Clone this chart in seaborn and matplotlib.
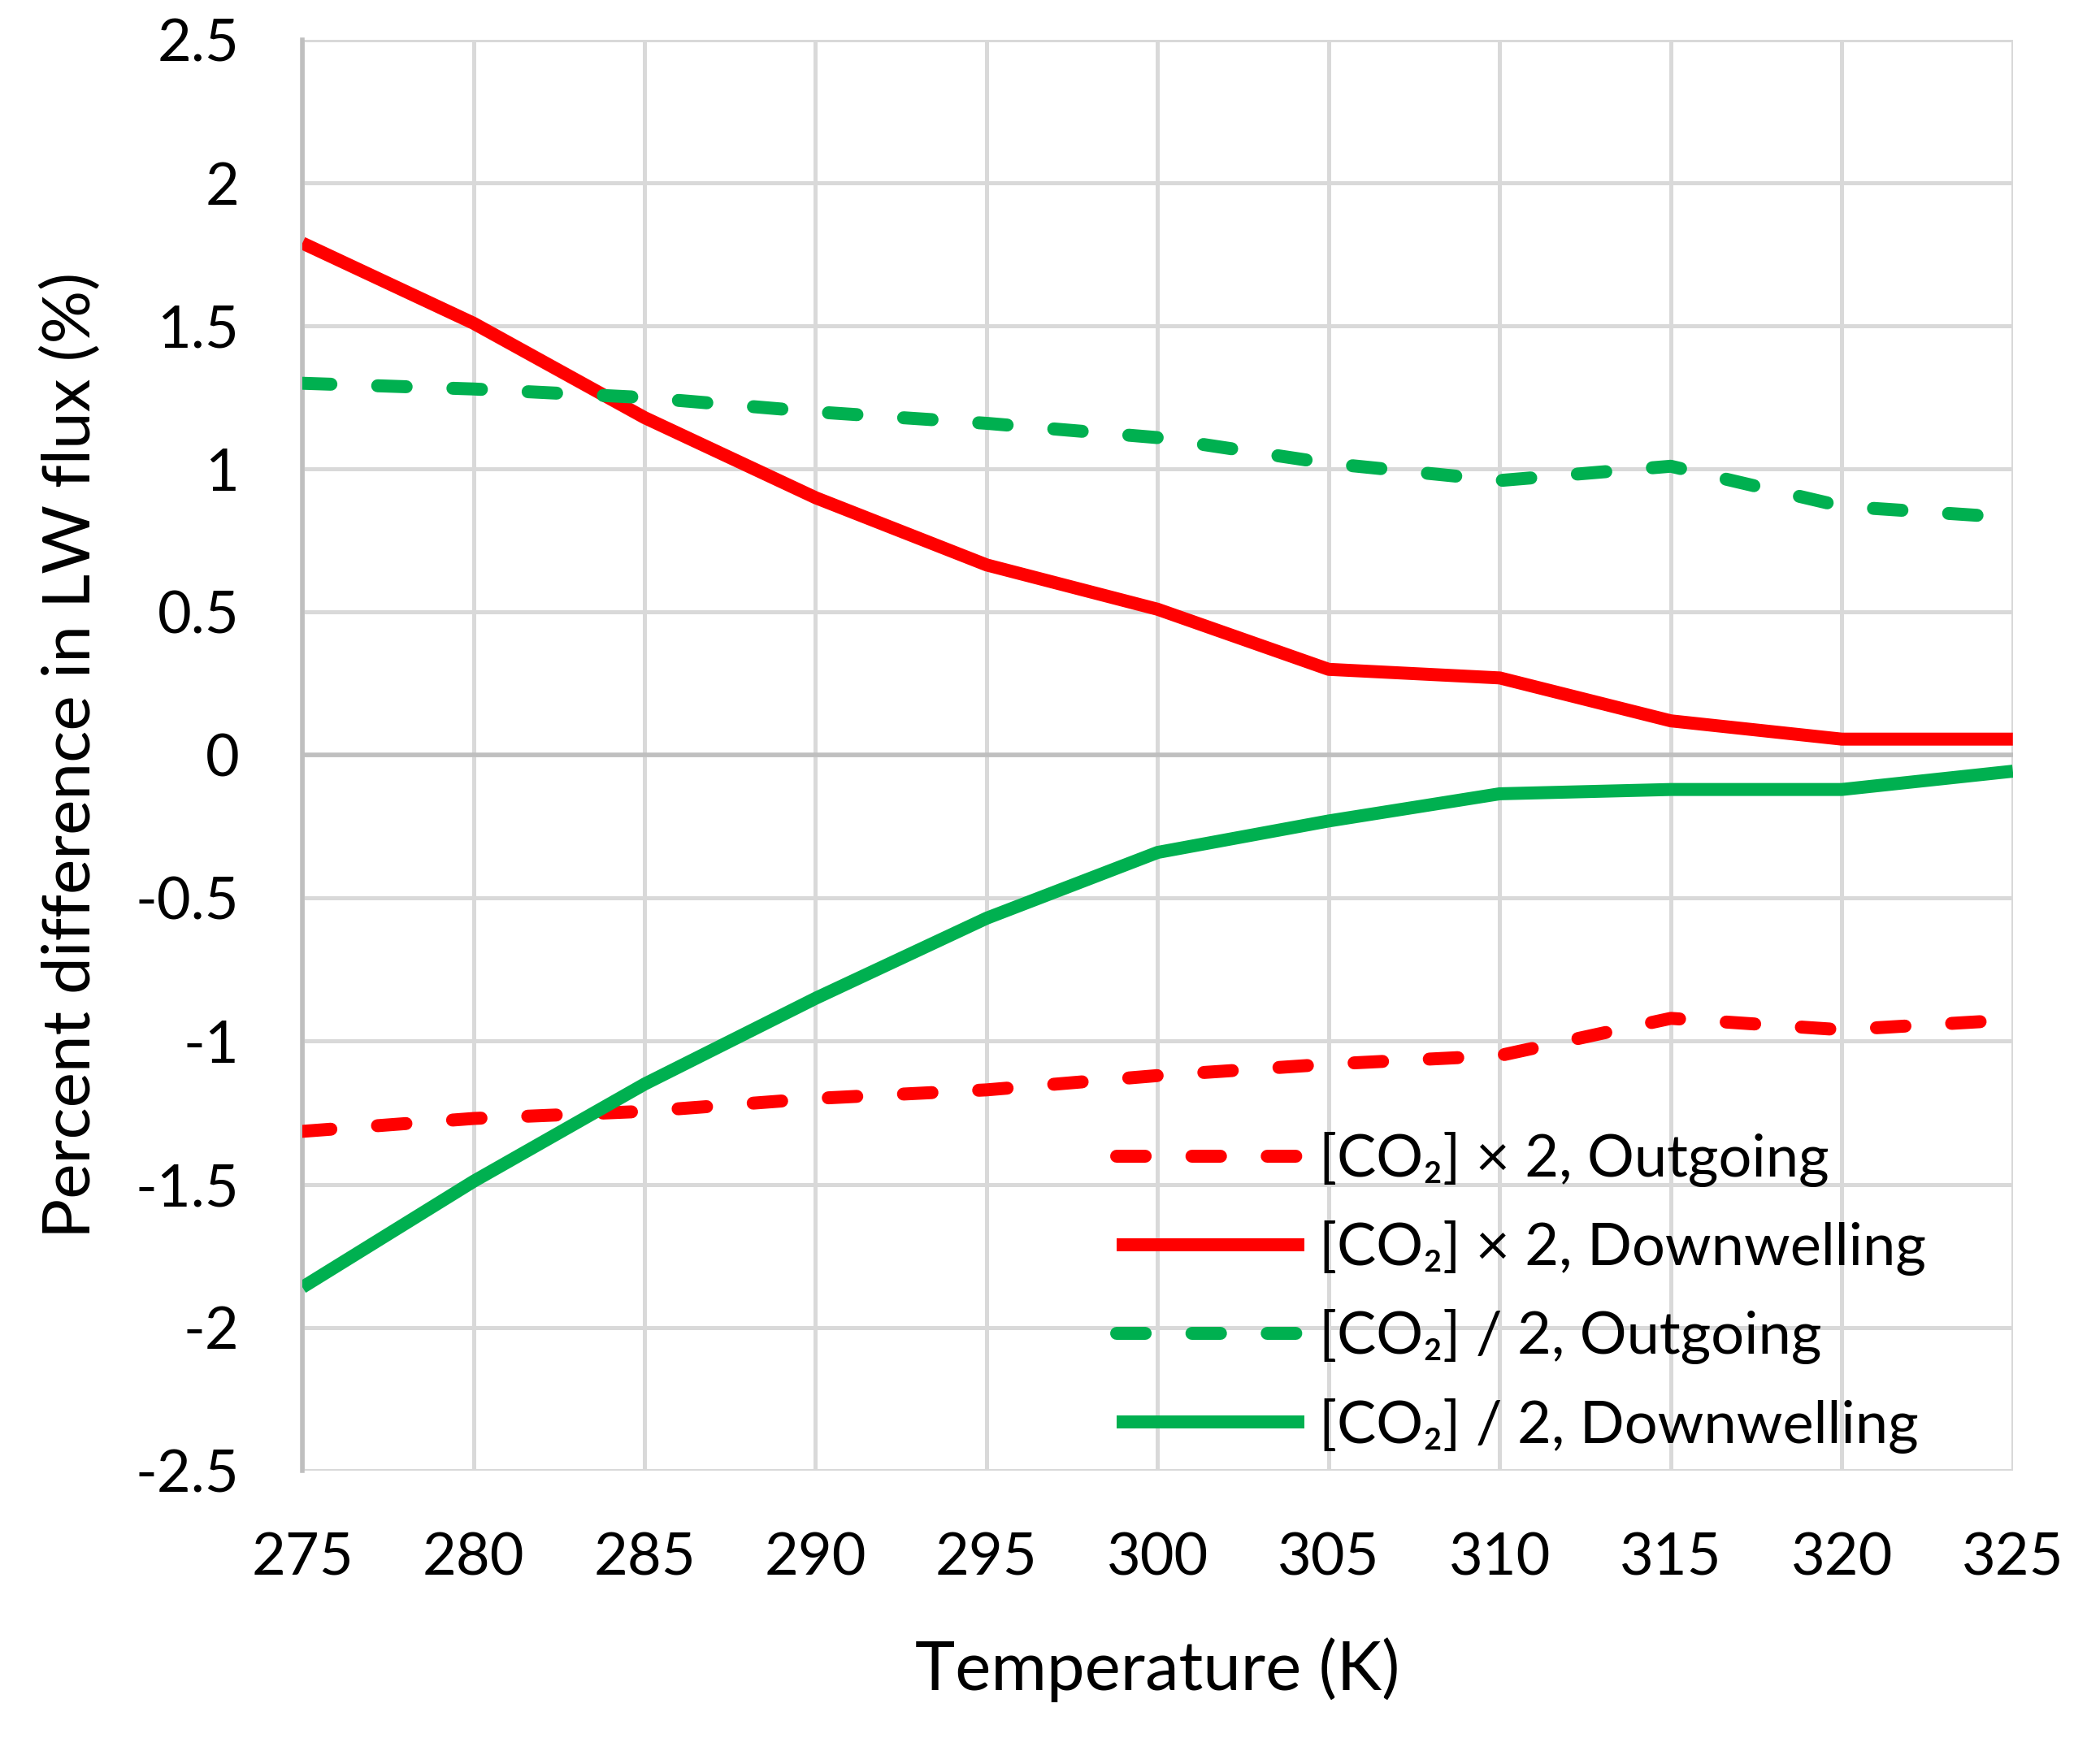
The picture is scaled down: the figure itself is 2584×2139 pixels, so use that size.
import pandas as pd
import matplotlib.pyplot as plt
import seaborn as sns

temperature = [275, 280, 285, 290, 295, 300, 305, 310, 315, 320, 325]
x2_outgoing = [-1.315, -1.27, -1.245, -1.20, -1.17, -1.12, -1.08, -1.05, -0.92, -0.96, -0.925]
x2_downwelling = [1.79, 1.51, 1.18, 0.90, 0.665, 0.51, 0.30, 0.27, 0.12, 0.056, 0.056]
half_outgoing = [1.30, 1.28, 1.25, 1.20, 1.16, 1.11, 1.02, 0.96, 1.01, 0.87, 0.83]
half_downwelling = [-1.86, -1.49, -1.15, -0.85, -0.57, -0.34, -0.23, -0.135, -0.12, -0.12, -0.056]

series_names = ['[CO\u2082] \u00d7 2, Outgoing', '[CO\u2082] \u00d7 2, Downwelling',
                '[CO\u2082] / 2, Outgoing', '[CO\u2082] / 2, Downwelling']
x_ticks = [275, 280, 285, 290, 295, 300, 305, 310, 315, 320, 325]
y_ticks = [2.5, 2, 1.5, 1, 0.5, 0, -0.5, -1, -1.5, -2, -2.5]
y_tick_labels = ['2.5', '2', '1.5', '1', '0.5', '0', '-0.5', '-1', '-1.5', '-2', '-2.5']

frames = []
for name, vals in zip(series_names, [x2_outgoing, x2_downwelling, half_outgoing, half_downwelling]):
    frames.append(pd.DataFrame({'T': temperature, 'diff': vals, 'series': name}))
df = pd.concat(frames, ignore_index=True)

sns.set_style('white')
plt.rcParams['font.family'] = ['Lato', 'DejaVu Sans']
plt.rcParams['text.color'] = 'black'
plt.rcParams['axes.labelcolor'] = 'black'
plt.rcParams['xtick.color'] = 'black'
plt.rcParams['ytick.color'] = 'black'

red = '#FF0000'
green = '#00B050'
palette = {series_names[0]: red, series_names[1]: red,
           series_names[2]: green, series_names[3]: green}
dash = (2.2, 3.6)
dashes = {series_names[0]: dash, series_names[1]: '',
          series_names[2]: dash, series_names[3]: ''}

fig = plt.figure(figsize=(25.84, 21.39), dpi=100)
ax = fig.add_axes([0.144, 0.154, 0.8145, 0.823])

lw = 11.5
sns.lineplot(data=df, x='T', y='diff', hue='series', style='series',
             palette=palette, dashes=dashes, hue_order=series_names,
             style_order=series_names, linewidth=lw, ax=ax, zorder=3)
for line in ax.get_lines():
    line.set_dash_capstyle('round')
    line.set_solid_capstyle('butt')

ax.set_xlim(275, 325)
ax.set_ylim(-2.5, 2.5)
ax.set_xticks(x_ticks)
ax.set_yticks(y_ticks)
ax.set_yticklabels(y_tick_labels)
ax.tick_params(axis='both', labelsize=52, length=0, labelcolor='black')
ax.tick_params(axis='x', pad=55)
ax.tick_params(axis='y', pad=56)
ax.grid(True, color='#D9D9D9', linewidth=3.6)
ax.set_axisbelow(True)
ax.axhline(0, color='#BFBFBF', linewidth=4, zorder=2)
for side in ['top', 'right', 'bottom']:
    ax.spines[side].set_visible(False)
ax.spines['left'].set_color('#BFBFBF')
ax.spines['left'].set_linewidth(4)

ax.set_xlabel('Temperature (K)', fontsize=60, labelpad=46, color='black')
ax.set_ylabel('Percent difference in LW flux (%)', fontsize=59, labelpad=30, color='black')

leg = ax.legend(loc='lower right', bbox_to_anchor=(0.98, -0.025), frameon=False,
                fontsize=52, handlelength=3.2, handletextpad=0.25, labelspacing=0.57)
for h in leg.get_lines():
    h.set_linewidth(lw)
    h.set_dash_capstyle('round')
for t in leg.get_texts():
    t.set_color('black')

fig.savefig('out.png', dpi=100)
